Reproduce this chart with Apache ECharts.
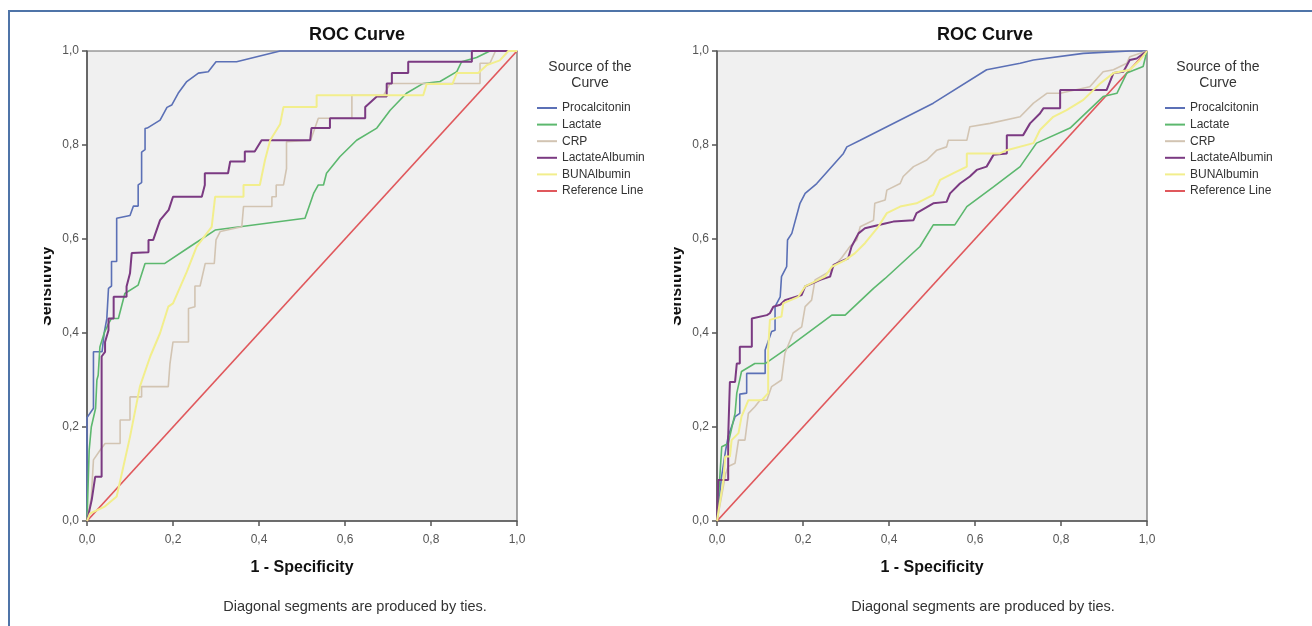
<!DOCTYPE html>
<html>
<head>
<meta charset="utf-8">
<script src="https://cdn.jsdelivr.net/npm/echarts@6/dist/echarts.min.js"></script>
<style>
html,body{margin:0;padding:0;background:#fff;}
#chart{width:1312px;height:626px;}
</style>
</head>
<body>
<div id="chart"></div>
<script>
// ---------- DATA ----------
const tickLabels = ['0,0', '0,2', '0,4', '0,6', '0,8', '1,0'];
const seriesNames = ['Procalcitonin', 'Lactate', 'CRP', 'LactateAlbumin', 'BUNAlbumin', 'Reference Line'];
const chartTitle = 'ROC Curve';
const xAxisName = '1 - Specificity';
const yAxisName = 'Sensitivity';
const legendTitle = 'Source of the\nCurve';
const footnote = 'Diagonal segments are produced by ties.';

// Left panel (x = 1 - specificity, y = sensitivity)
const leftProcalcitonin = [[0,0],[0,0.22],[0.015,0.24],[0.015,0.36],[0.035,0.36],[0.04,0.40],[0.046,0.43],[0.05,0.495],[0.057,0.50],[0.057,0.552],[0.069,0.552],[0.069,0.644],[0.1,0.65],[0.108,0.67],[0.119,0.67],[0.119,0.715],[0.127,0.72],[0.127,0.785],[0.135,0.79],[0.135,0.835],[0.14,0.836],[0.17,0.853],[0.186,0.88],[0.197,0.885],[0.212,0.91],[0.232,0.935],[0.259,0.953],[0.282,0.956],[0.30,0.977],[0.348,0.977],[0.449,1.0],[1,1]];
const leftLactate = [[0,0],[0.005,0.15],[0.01,0.2],[0.02,0.24],[0.023,0.30],[0.026,0.31],[0.03,0.37],[0.04,0.40],[0.05,0.42],[0.057,0.431],[0.073,0.431],[0.088,0.484],[0.119,0.502],[0.135,0.548],[0.181,0.548],[0.24,0.584],[0.298,0.619],[0.507,0.644],[0.527,0.697],[0.538,0.715],[0.55,0.715],[0.557,0.74],[0.588,0.775],[0.627,0.81],[0.674,0.836],[0.705,0.874],[0.743,0.91],[0.782,0.931],[0.821,0.935],[0.86,0.956],[0.871,0.977],[0.906,0.986],[0.937,1],[1,1]];
const leftCRP = [[0,0],[0.01,0.05],[0.015,0.13],[0.03,0.15],[0.042,0.165],[0.077,0.165],[0.077,0.215],[0.1,0.215],[0.1,0.264],[0.127,0.264],[0.127,0.286],[0.189,0.286],[0.193,0.335],[0.2,0.381],[0.236,0.381],[0.236,0.452],[0.251,0.456],[0.251,0.5],[0.263,0.5],[0.275,0.548],[0.296,0.548],[0.3,0.598],[0.31,0.616],[0.36,0.626],[0.364,0.669],[0.43,0.669],[0.43,0.69],[0.44,0.69],[0.44,0.715],[0.457,0.715],[0.464,0.75],[0.464,0.807],[0.52,0.81],[0.538,0.857],[0.616,0.857],[0.616,0.906],[0.69,0.906],[0.705,0.931],[0.914,0.931],[0.914,0.974],[0.937,0.974],[0.95,1],[1,1]];
const leftLactateAlbumin = [[0,0],[0.005,0.02],[0.011,0.045],[0.019,0.094],[0.034,0.094],[0.034,0.35],[0.042,0.36],[0.042,0.381],[0.05,0.406],[0.05,0.431],[0.062,0.431],[0.062,0.477],[0.092,0.477],[0.092,0.499],[0.1,0.527],[0.104,0.57],[0.143,0.572],[0.143,0.598],[0.154,0.598],[0.17,0.64],[0.19,0.662],[0.2,0.69],[0.267,0.69],[0.274,0.715],[0.274,0.74],[0.328,0.74],[0.333,0.765],[0.367,0.765],[0.367,0.786],[0.39,0.786],[0.406,0.81],[0.519,0.81],[0.522,0.836],[0.565,0.836],[0.565,0.857],[0.647,0.857],[0.647,0.881],[0.674,0.903],[0.697,0.903],[0.697,0.931],[0.709,0.931],[0.709,0.953],[0.747,0.953],[0.747,0.977],[0.895,0.977],[0.895,1],[1,1]];
const leftBUNAlbumin = [[0,0],[0.007,0.016],[0.04,0.03],[0.069,0.052],[0.081,0.101],[0.1,0.179],[0.123,0.286],[0.147,0.35],[0.17,0.40],[0.189,0.456],[0.2,0.463],[0.232,0.53],[0.255,0.584],[0.29,0.626],[0.298,0.69],[0.364,0.69],[0.364,0.715],[0.402,0.715],[0.414,0.768],[0.426,0.81],[0.449,0.844],[0.457,0.881],[0.534,0.881],[0.534,0.906],[0.782,0.906],[0.79,0.93],[0.85,0.93],[0.86,0.953],[0.91,0.953],[0.93,0.97],[0.96,0.98],[0.98,1],[1,1]];
const leftReference = [[0,0],[1,1]];

// Right panel
const rightProcalcitonin = [[0,0],[0.01,0.09],[0.02,0.15],[0.026,0.18],[0.042,0.222],[0.053,0.229],[0.053,0.27],[0.069,0.272],[0.069,0.314],[0.112,0.314],[0.112,0.364],[0.127,0.403],[0.135,0.406],[0.135,0.456],[0.147,0.477],[0.15,0.52],[0.162,0.541],[0.164,0.598],[0.174,0.612],[0.193,0.676],[0.205,0.697],[0.232,0.718],[0.294,0.782],[0.302,0.796],[0.333,0.81],[0.395,0.839],[0.503,0.889],[0.627,0.96],[0.705,0.974],[0.736,0.981],[0.852,0.995],[0.96,1],[1,1]];
const rightLactate = [[0,0],[0.003,0.002],[0.011,0.158],[0.026,0.165],[0.042,0.229],[0.046,0.272],[0.057,0.318],[0.088,0.335],[0.112,0.335],[0.158,0.364],[0.267,0.438],[0.298,0.438],[0.364,0.495],[0.391,0.516],[0.472,0.584],[0.503,0.63],[0.553,0.63],[0.581,0.669],[0.643,0.711],[0.705,0.754],[0.743,0.804],[0.821,0.836],[0.898,0.903],[0.93,0.91],[0.953,0.953],[0.991,0.967],[1,1]];
const rightCRP = [[0,0],[0.01,0.05],[0.02,0.1],[0.026,0.116],[0.042,0.123],[0.05,0.172],[0.065,0.172],[0.073,0.229],[0.088,0.243],[0.1,0.257],[0.116,0.257],[0.127,0.286],[0.15,0.3],[0.158,0.357],[0.177,0.4],[0.197,0.413],[0.205,0.456],[0.22,0.47],[0.228,0.513],[0.26,0.53],[0.29,0.56],[0.31,0.585],[0.325,0.598],[0.333,0.626],[0.364,0.64],[0.367,0.676],[0.391,0.683],[0.395,0.704],[0.426,0.718],[0.433,0.733],[0.457,0.754],[0.488,0.768],[0.511,0.789],[0.534,0.796],[0.538,0.81],[0.581,0.81],[0.588,0.839],[0.635,0.846],[0.705,0.86],[0.736,0.889],[0.767,0.91],[0.798,0.91],[0.867,0.924],[0.898,0.956],[0.922,0.96],[0.953,0.974],[0.96,0.988],[1,1]];
const rightLactateAlbumin = [[0,0],[0.003,0.087],[0.026,0.087],[0.026,0.179],[0.03,0.296],[0.042,0.296],[0.046,0.335],[0.053,0.335],[0.053,0.371],[0.081,0.371],[0.081,0.431],[0.116,0.438],[0.123,0.442],[0.131,0.456],[0.147,0.46],[0.158,0.47],[0.197,0.481],[0.205,0.499],[0.24,0.513],[0.263,0.52],[0.271,0.545],[0.305,0.559],[0.313,0.584],[0.329,0.612],[0.344,0.623],[0.391,0.633],[0.41,0.637],[0.457,0.64],[0.464,0.655],[0.503,0.676],[0.534,0.679],[0.542,0.697],[0.565,0.718],[0.588,0.733],[0.604,0.747],[0.627,0.754],[0.643,0.779],[0.674,0.782],[0.674,0.821],[0.712,0.821],[0.728,0.846],[0.751,0.867],[0.759,0.878],[0.798,0.878],[0.798,0.917],[0.906,0.917],[0.922,0.953],[0.945,0.956],[0.96,0.981],[0.976,0.984],[1,1]];
const rightBUNAlbumin = [[0,0],[0.005,0.03],[0.015,0.087],[0.019,0.137],[0.03,0.137],[0.034,0.172],[0.05,0.187],[0.057,0.222],[0.073,0.257],[0.104,0.257],[0.119,0.272],[0.119,0.364],[0.123,0.428],[0.15,0.435],[0.154,0.463],[0.189,0.477],[0.205,0.499],[0.251,0.52],[0.267,0.541],[0.298,0.555],[0.321,0.57],[0.344,0.591],[0.375,0.626],[0.395,0.655],[0.426,0.669],[0.464,0.676],[0.503,0.694],[0.519,0.726],[0.55,0.74],[0.581,0.754],[0.581,0.782],[0.658,0.782],[0.674,0.789],[0.736,0.804],[0.751,0.832],[0.782,0.86],[0.813,0.874],[0.852,0.896],[0.891,0.931],[0.922,0.953],[0.96,0.96],[0.984,0.981],[1,1]];
const rightReference = [[0,0],[1,1]];

// ---------- STYLE ----------
const colors = ['#5b70b6', '#5cb86e', '#d2c4b2', '#7b3a82', '#f2ee8c', '#e0585c'];
const widths = [1.6, 1.6, 1.6, 2, 2, 1.7];
const FONT = '"Liberation Sans", Arial, sans-serif';

const panels = [
  { data: [leftProcalcitonin, leftLactate, leftCRP, leftLactateAlbumin, leftBUNAlbumin, leftReference], gridLeft: 87, legendLeft: 537, titleX: 357 },
  { data: [rightProcalcitonin, rightLactate, rightCRP, rightLactateAlbumin, rightBUNAlbumin, rightReference], gridLeft: 717, legendLeft: 1165, titleX: 985 }
];
const GRID_TOP = 51, GRID_W = 430, GRID_H = 470;

const labelFmt = v => tickLabels[Math.round(v / 0.2)];
const axisCommon = (gi) => ({
  gridIndex: gi, type: 'value', min: 0, max: 1, interval: 0.2,
  axisLine: { show: true, onZero: false, lineStyle: { color: '#555', width: 1.5 } },
  axisTick: { show: true, length: 5, lineStyle: { color: '#555', width: 1.5 } },
  splitLine: { show: false },
  axisLabel: { formatter: labelFmt, color: '#555', fontSize: 12, fontFamily: FONT }
});

const grids = [], xAxes = [], yAxes = [], series = [], legends = [], graphics = [];

panels.forEach((p, gi) => {
  grids.push({ left: p.gridLeft, top: GRID_TOP, width: GRID_W, height: GRID_H, show: true,
    backgroundColor: '#f0f0f0', borderColor: '#6a6a6a', borderWidth: 1.2 });
  const xa = axisCommon(gi); xa.axisLabel.margin = 13; xAxes.push(xa);
  const ya = axisCommon(gi); ya.axisLabel.margin = 8; yAxes.push(ya);
  p.data.forEach((d, si) => {
    series.push({
      name: seriesNames[si], type: 'line', xAxisIndex: gi, yAxisIndex: gi,
      data: d, showSymbol: false, symbol: 'none', clip: false, silent: true,
      lineStyle: { color: colors[si], width: widths[si] },
      itemStyle: { color: colors[si] },
      z: si === 5 ? 1 : 2 + si
    });
  });
  legends.push({
    left: p.legendLeft, top: 101, orient: 'vertical', padding: 0,
    itemWidth: 20, itemHeight: 2, itemGap: 2.6, icon: 'rect', selectedMode: false,
    data: seriesNames,
    textStyle: { color: '#333', fontSize: 12, fontFamily: FONT, lineHeight: 14 }
  });
  const cx = p.gridLeft + GRID_W / 2;
  graphics.push(
    { type: 'text', x: p.titleX, y: 35, style: { text: chartTitle, font: 'bold 18px ' + FONT, fill: '#111', textAlign: 'center', textVerticalAlign: 'middle' } },
    { type: 'text', x: p.legendLeft + 53, y: 75, style: { text: legendTitle, font: '14px ' + FONT, fill: '#333', textAlign: 'center', textVerticalAlign: 'middle', lineHeight: 16 } },
    { type: 'text', x: cx, y: 568, style: { text: xAxisName, font: 'bold 16px ' + FONT, fill: '#111', textAlign: 'center', textVerticalAlign: 'middle' } },
    { type: 'text', x: p.titleX - 2, y: 607, style: { text: footnote, font: '14.5px ' + FONT, fill: '#333', textAlign: 'center', textVerticalAlign: 'middle' } },
    { type: 'text', x: p.gridLeft - 40, y: 286, rotation: Math.PI / 2, style: { text: yAxisName, font: 'bold 16px ' + FONT, fill: '#111', textAlign: 'center', textVerticalAlign: 'middle' } },
    { type: 'rect', shape: { x: p.gridLeft - 77, y: 220, width: 34, height: 130 }, style: { fill: '#fff' }, z: 100 }
  );
});

// outer frame of the figure
graphics.push({ type: 'polyline', shape: { points: [[9, 626], [9, 11], [1312, 11]] }, style: { stroke: '#4f74a8', lineWidth: 2, fill: null }, z: 101 });

const chart = echarts.init(document.getElementById('chart'), null, { renderer: 'canvas' });
chart.setOption({
  animation: false,
  backgroundColor: '#fff',
  grid: grids, xAxis: xAxes, yAxis: yAxes, series: series, legend: legends,
  graphic: { elements: graphics }
});
</script>
</body>
</html>
